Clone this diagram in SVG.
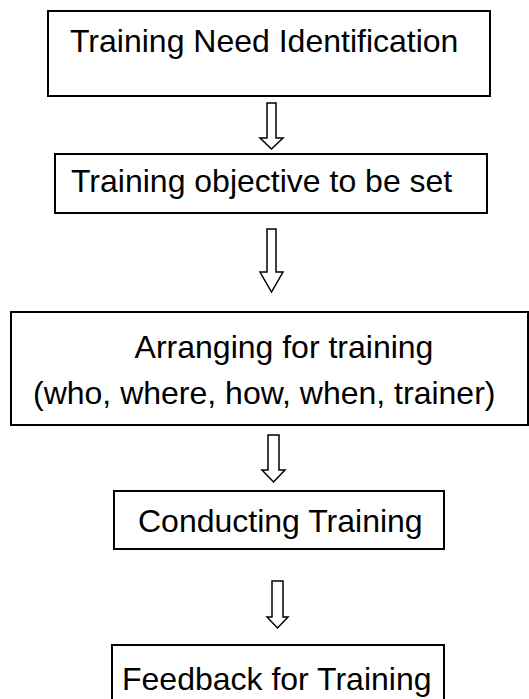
<svg xmlns="http://www.w3.org/2000/svg" width="529" height="699" viewBox="0 0 529 699">
  <style>
    .box { fill: #ffffff; stroke: #000000; stroke-width: 2; }
    .lbl { font-family: "Liberation Sans", Arial, sans-serif; font-size: 32px; fill: #000000; }
    .mid { text-anchor: middle; }
    .arrow { fill: #ffffff; stroke: #000000; stroke-width: 1.5; stroke-linejoin: miter; }
  </style>
  <rect x="0" y="0" width="529" height="699" fill="#ffffff"/>

  <!-- hollow block arrows between the steps -->
  <g id="connectors">
    <path class="arrow" d="M267,103 H276 V138 H283 L271.5,149 L260,138 H267 Z"/>
    <path class="arrow" d="M267,229 H276 V272 H283 L271.5,292 L260,272 H267 Z"/>
    <path class="arrow" d="M268,435 H279 V470 H285 L273.5,482 L262,470 H268 Z"/>
    <path class="arrow" d="M272,581 H283 V617 H288 L277.5,628 L267,617 H272 Z"/>
  </g>

  <g id="need-identification">
    <rect class="box" x="48" y="11" width="442" height="85"/>
    <text class="lbl" x="70" y="52">Training Need Identification</text>
  </g>

  <g id="objective">
    <rect class="box" x="55" y="154" width="432" height="59"/>
    <text class="lbl" x="71" y="192">Training objective to be set</text>
  </g>

  <g id="arranging">
    <rect class="box" x="11" y="312" width="517" height="113"/>
    <text class="lbl mid" x="284" y="358">Arranging for training</text>
    <text class="lbl" x="33" y="404">(who, where, how, when, trainer)</text>
  </g>

  <g id="conducting">
    <rect class="box" x="114" y="491" width="330" height="58"/>
    <text class="lbl" x="138" y="532">Conducting Training</text>
  </g>

  <g id="feedback">
    <rect class="box" x="112" y="645" width="332" height="70"/>
    <text class="lbl" x="122" y="690">Feedback for Training</text>
  </g>
</svg>
